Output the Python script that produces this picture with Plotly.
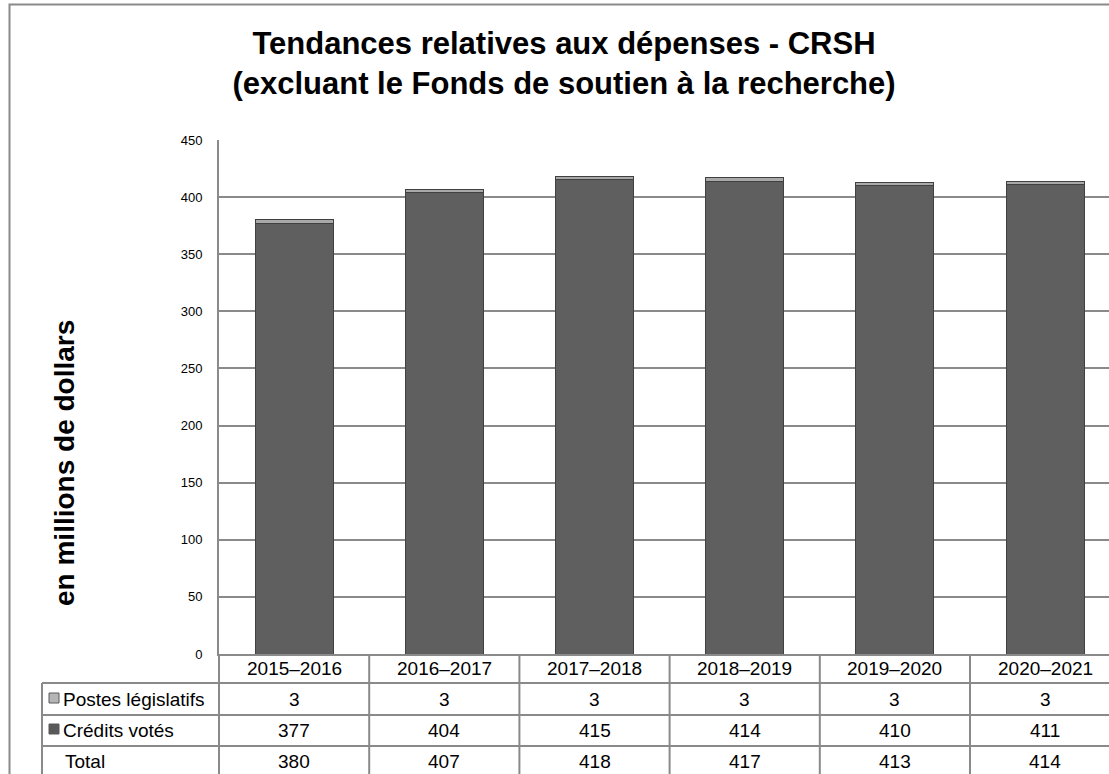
import plotly.graph_objects as go

# ---- data ----
categories = ["2015–2016", "2016–2017", "2017–2018", "2018–2019", "2019–2020", "2020–2021"]
postes_legislatifs = [3, 3, 3, 3, 3, 3]
credits_votes = [377, 404, 415, 414, 410, 411]
totals = [380, 407, 418, 417, 413, 414]
y_ticks = [0, 50, 100, 150, 200, 250, 300, 350, 400, 450]

title_text = "Tendances relatives aux dépenses - CRSH<br>(excluant le Fonds de soutien à la recherche)"
y_title = "en millions de dollars"
row_labels = ["Postes législatifs", "Crédits votés", "Total"]

FONT = "Arial, 'Liberation Sans', sans-serif"
W, H = 1109, 774
L, T, B_PX = 219, 140, 654          # plot area pixel bounds
PW, PH = W - L, B_PX - T
COL_PX = 150.2                      # width of one category column in pixels

GRID = "#8a8a8a"
DARK = "#5f5f5f"
LIGHT = "#a9a9a9"


def px(xp):
    return (xp - L) / PW


def py(yp):
    return (B_PX - yp) / PH


xpos = list(range(len(categories)))

fig = go.Figure()
fig.add_trace(go.Bar(x=xpos, y=credits_votes, name=row_labels[1], width=0.52,
                     marker=dict(color=DARK, line=dict(color="#404040", width=1))))
fig.add_trace(go.Bar(x=xpos, y=postes_legislatifs, name=row_labels[0], width=0.52,
                     marker=dict(color=LIGHT, line=dict(color="#404040", width=1))))

shapes = []
line_style = dict(color=GRID, width=2)
# outer chart border
shapes.append(dict(type="rect", xref="paper", yref="paper", x0=px(9.5), x1=px(1125), y0=py(790), y1=py(4.5),
                   line=line_style, layer="below"))
# table horizontal lines
for yl in [683, 715, 746]:
    shapes.append(dict(type="line", xref="paper", yref="paper", x0=px(42), x1=px(1115), y0=py(yl), y1=py(yl),
                       line=line_style))
# table left border and plot/table left line
shapes.append(dict(type="line", xref="paper", yref="paper", x0=px(42), x1=px(42), y0=py(683), y1=py(790),
                   line=line_style))
shapes.append(dict(type="line", xref="paper", yref="paper", x0=0, x1=0, y0=py(654), y1=py(790),
                   line=line_style))
# column separators
for k in range(len(categories) - 1):
    shapes.append(dict(type="line", xref="x", yref="paper", x0=k + 0.5, x1=k + 0.5, y0=py(654), y1=py(790),
                       line=line_style))
# legend keys in table
shapes.append(dict(type="rect", xref="paper", yref="paper", x0=px(49), x1=px(59), y0=py(703), y1=py(693),
                   fillcolor="#b5b5b5", line=dict(color="#5a5a5a", width=1)))
shapes.append(dict(type="rect", xref="paper", yref="paper", x0=px(49), x1=px(59), y0=py(734), y1=py(724),
                   fillcolor="#595959", line=dict(color="#595959", width=1)))

annotations = []
tfont = dict(family=FONT, size=19, color="black")
rows_y = [668, 699, 730, 761]
for k, cat in enumerate(categories):
    annotations.append(dict(x=k, y=py(rows_y[0]), xref="x", yref="paper", text=cat, showarrow=False,
                            font=tfont, xanchor="center", yanchor="middle"))
    for r, vals in enumerate([postes_legislatifs, credits_votes, totals]):
        annotations.append(dict(x=k, y=py(rows_y[r + 1]), xref="x", yref="paper", text=str(vals[k]),
                                showarrow=False, font=tfont, xanchor="center", yanchor="middle"))
label_x = [61, 61, 63]
for r, lab in enumerate(row_labels):
    annotations.append(dict(x=px(label_x[r]), y=py(rows_y[r + 1]), xref="paper", yref="paper", text=lab,
                            showarrow=False, font=tfont, xanchor="left", yanchor="middle"))
# y axis title
annotations.append(dict(x=px(64), y=py(463), xref="paper", yref="paper", text="<b>" + y_title + "</b>",
                        textangle=-90, showarrow=False, font=dict(family=FONT, size=28, color="black"),
                        xanchor="center", yanchor="middle"))

fig.update_layout(
    width=W, height=H,
    margin=dict(l=L, r=0, t=T, b=H - B_PX),
    paper_bgcolor="white", plot_bgcolor="white",
    barmode="stack", showlegend=False,
    title=dict(text="<b>" + title_text + "</b>", x=564 / W, xref="container", xanchor="center",
               y=1 - 54 / H, yref="container", yanchor="middle",
               font=dict(family=FONT, size=31, color="black")),
    font=dict(family=FONT, color="black"),
    shapes=shapes,
    annotations=annotations,
)
fig.update_xaxes(range=[-0.5, -0.5 + PW / COL_PX],
                 showticklabels=False, showgrid=False, zeroline=False,
                 showline=True, linecolor=GRID, linewidth=2, ticks="")
fig.update_yaxes(range=[0, 450], tickvals=y_ticks, showgrid=True, gridcolor=GRID, gridwidth=1.5,
                 zeroline=False, showline=True, linecolor=GRID, linewidth=2, ticks="",
                 ticklabelstandoff=12, tickfont=dict(family=FONT, size=13, color="black"))

fig.write_html("out.html", config={"displayModeBar": False},
               post_script="document.body.style.margin='0';document.body.style.overflow='hidden';")
